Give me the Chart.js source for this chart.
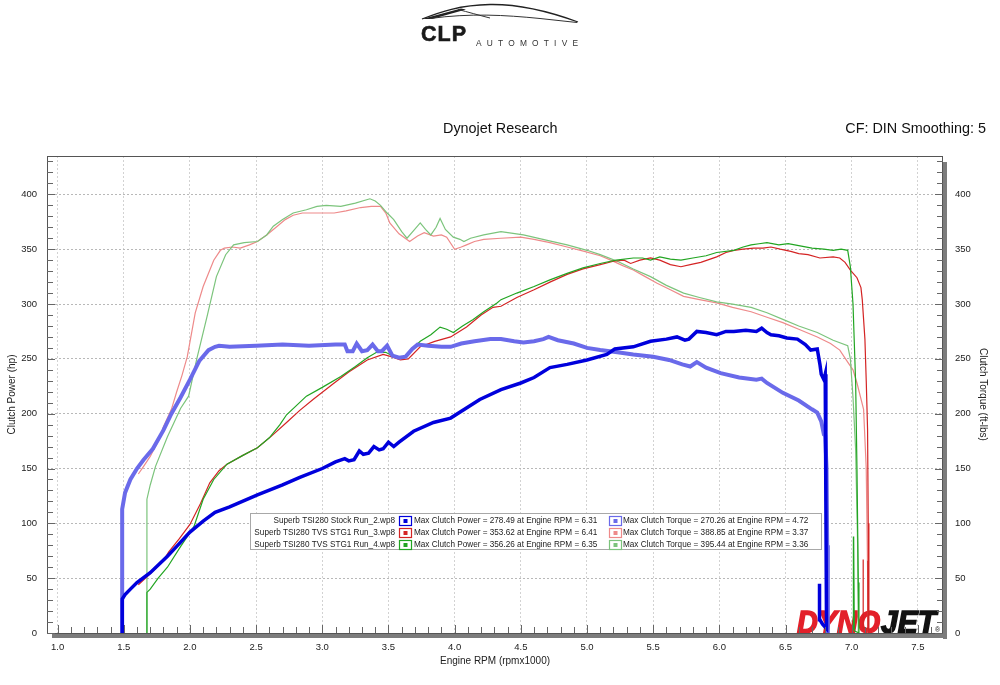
<!DOCTYPE html>
<html>
<head>
<meta charset="utf-8">
<title>Dynojet Research</title>
<script src="https://cdn.jsdelivr.net/npm/chart.js@4.4.1/dist/chart.umd.min.js"></script>
<style>
  html, body { margin: 0; padding: 0; background: #fff; }
  body { width: 1000px; height: 685px; position: relative; overflow: hidden; font-family: "Liberation Sans", Arial, sans-serif; }
  #dyno { position: absolute; left: 0; top: 0; }
  .txt { position: absolute; white-space: nowrap; line-height: 1; color: #111; }
  #swoosh { position: absolute; left: 400px; top: 0; }
</style>
</head>
<body>
<canvas id="dyno" width="1000" height="685"></canvas>

<svg id="swoosh" width="200" height="30" viewBox="400 0 200 30">
  <path d="M422,19 C440,12 460,5 490,4.5 C520,4 548,11 578,22" fill="none" stroke="#222" stroke-width="1.3"/>
  <path d="M422,19 L461,8.5 L466,9.5 L432,19 Z" fill="#222"/>
  <path d="M430,18.5 C470,13 505,15 540,18.5 L577,22.5" fill="none" stroke="#333" stroke-width="1"/>
  <path d="M458,9.5 C468,12 478,15 490,18" fill="none" stroke="#333" stroke-width="1"/>
</svg>
<div class="txt" style="left:421px; top:24px; font-size:21.5px; font-weight:900; letter-spacing:1px; color:#1a1a1a; -webkit-text-stroke:0.6px #1a1a1a;">CLP</div>
<div class="txt" style="left:476px; top:39px; font-size:8.4px; letter-spacing:5.2px; color:#333;">AUTOMOTIVE</div>

<div class="txt" style="left:443px; top:121px; font-size:14.4px;">Dynojet Research</div>
<div class="txt" style="right:14px; top:121px; font-size:14.4px;">CF: DIN Smoothing: 5</div>

<script>
// ---- data (rpm in thousands) ----
const stockPowerRpm = [1.487, 1.487, 1.49, 1.51, 1.55, 1.60, 1.70, 1.83, 1.90, 2.00, 2.10, 2.19, 2.30, 2.51, 2.70, 2.83, 3.00, 3.10, 3.17, 3.20, 3.24, 3.28, 3.31, 3.35, 3.39, 3.43, 3.46, 3.50, 3.54, 3.58, 3.69, 3.84, 3.97, 4.19, 4.35, 4.50, 4.60, 4.72, 4.85, 5.00, 5.15, 5.21, 5.35, 5.48, 5.60, 5.68, 5.74, 5.77, 5.83, 5.90, 5.98, 6.05, 6.11, 6.20, 6.28, 6.32, 6.36, 6.39, 6.45, 6.51, 6.59, 6.65, 6.69, 6.74, 6.76, 6.77, 6.79, 6.80, 6.805, 6.81, 6.78, 6.76, 6.757, 6.757];
const stockPower    = [0, 25, 31, 35, 40, 46, 55, 70, 79, 92, 102, 110, 115, 126, 135, 142, 150, 156, 159, 157, 158, 166, 163, 164, 170, 167, 168, 174, 170, 174, 184, 192, 196, 213, 222, 228, 233, 242, 245, 249, 254, 259, 261, 266, 268, 270, 267, 268, 275, 274, 272, 275, 275, 276, 275, 278, 274, 272, 271, 269, 268, 263, 258, 259, 245, 236, 231, 236, 120, 4, 8, 12, 45, 20];

const stockTorqueRpm = [1.488, 1.488, 1.51, 1.55, 1.60, 1.65, 1.72, 1.80, 1.86, 1.93, 2.00, 2.07, 2.14, 2.19, 2.22, 2.30, 2.50, 2.70, 2.90, 3.10, 3.17, 3.19, 3.23, 3.26, 3.30, 3.34, 3.38, 3.42, 3.45, 3.49, 3.53, 3.58, 3.63, 3.68, 3.72, 3.80, 3.90, 3.97, 4.05, 4.15, 4.27, 4.35, 4.45, 4.52, 4.60, 4.67, 4.71, 4.78, 4.90, 5.00, 5.10, 5.23, 5.35, 5.50, 5.62, 5.72, 5.78, 5.83, 5.90, 6.01, 6.15, 6.28, 6.32, 6.36, 6.48, 6.60, 6.70, 6.74, 6.77, 6.79, 6.80, 6.81, 6.815, 6.82];
const stockTorque    = [0, 113, 128, 140, 150, 158, 168, 185, 200, 215, 231, 248, 258, 261, 262, 261, 262, 263, 262, 263, 263, 257, 257, 264, 257, 258, 263, 257, 257, 262, 253, 251, 252, 259, 263, 262, 261, 261, 264, 266, 268, 268, 266, 265, 266, 268, 270, 267, 264, 260, 258, 256, 254, 252, 249, 245, 243, 247, 242, 237, 233, 231, 232, 228, 219, 212, 204, 201, 193, 181, 180, 150, 80, 0];

const run3PowerRpm = [1.61, 1.70, 1.80, 1.84, 1.92, 2.00, 2.08, 2.15, 2.22, 2.28, 2.40, 2.51, 2.62, 2.73, 2.83, 2.93, 3.09, 3.20, 3.34, 3.46, 3.52, 3.59, 3.65, 3.74, 3.85, 3.97, 4.09, 4.20, 4.29, 4.35, 4.47, 4.60, 4.72, 4.85, 4.97, 5.10, 5.20, 5.28, 5.33, 5.40, 5.48, 5.55, 5.63, 5.71, 5.78, 5.86, 5.98, 6.05, 6.11, 6.18, 6.26, 6.33, 6.39, 6.46, 6.54, 6.60, 6.67, 6.76, 6.86, 6.91, 6.95, 6.99, 7.04, 7.07, 7.08, 7.10, 7.11, 7.12, 7.125, 7.13, 7.123, 7.123, 7.121, 7.09, 7.088, 7.086];
const run3Power    = [44, 54, 66, 74, 86, 99, 118, 137, 148, 154, 162, 169, 180, 192, 203, 213, 228, 238, 249, 254, 252, 249, 250, 261, 266, 270, 279, 290, 297, 298, 306, 313, 320, 327, 332, 336, 339, 340, 337, 340, 342, 340, 336, 334, 336, 338, 343, 347, 349, 350, 351, 351, 352, 350, 348, 346, 345, 342, 343, 342, 338, 331, 324, 315, 304, 268, 230, 186, 100, 0, 2, 66, 4, 5, 67, 3];

const run3TorqueRpm = [1.61, 1.65, 1.70, 1.76, 1.80, 1.86, 1.90, 1.94, 1.98, 2.04, 2.10, 2.18, 2.23, 2.26, 2.32, 2.38, 2.45, 2.51, 2.58, 2.66, 2.72, 2.78, 2.85, 2.96, 3.09, 3.18, 3.29, 3.37, 3.44, 3.48, 3.51, 3.58, 3.66, 3.72, 3.77, 3.84, 3.90, 3.94, 4.00, 4.05, 4.09, 4.15, 4.22, 4.35, 4.50, 4.60, 4.72, 4.85, 4.98, 5.10, 5.18, 5.27, 5.35, 5.44, 5.53, 5.63, 5.73, 5.85, 5.98, 6.10, 6.24, 6.36, 6.48, 6.60, 6.74, 6.84, 6.91, 6.97, 7.01, 7.04, 7.09, 7.11, 7.12, 7.125];
const run3Torque    = [145, 152, 161, 175, 188, 204, 220, 235, 252, 292, 316, 340, 349, 351, 352, 351, 354, 357, 363, 371, 377, 381, 383, 383, 383, 385, 388, 389, 389, 383, 374, 364, 357, 362, 365, 362, 363, 361, 350, 352, 354, 357, 359, 360, 361, 359, 356, 352, 348, 344, 340, 335, 331, 325, 319, 313, 307, 304, 301, 297, 293, 288, 283, 277, 270, 264, 258, 247, 240, 228, 204, 150, 60, 0];

const run4PowerRpm = [1.675, 1.675, 1.70, 1.76, 1.83, 1.93, 2.03, 2.10, 2.18, 2.28, 2.40, 2.51, 2.60, 2.68, 2.73, 2.88, 3.00, 3.14, 3.25, 3.34, 3.41, 3.48, 3.54, 3.62, 3.68, 3.74, 3.82, 3.89, 3.94, 3.99, 4.06, 4.14, 4.22, 4.32, 4.35, 4.47, 4.60, 4.72, 4.85, 4.97, 5.10, 5.22, 5.35, 5.42, 5.48, 5.55, 5.63, 5.71, 5.80, 5.90, 5.98, 6.11, 6.18, 6.24, 6.30, 6.36, 6.45, 6.52, 6.61, 6.70, 6.79, 6.86, 6.92, 6.97, 6.99, 7.01, 7.03, 7.04, 7.05, 7.055, 7.02, 7.015, 7.013];
const run4Power    = [0, 37, 40, 50, 60, 79, 97, 122, 140, 154, 162, 169, 178, 190, 199, 216, 224, 234, 243, 251, 256, 256, 252, 252, 259, 266, 272, 279, 277, 274, 280, 286, 293, 301, 304, 310, 316, 322, 328, 333, 337, 340, 342, 342, 340, 343, 341, 340, 342, 344, 347, 349, 352, 354, 355, 356, 354, 355, 353, 351, 350, 349, 350, 349, 334, 300, 228, 150, 46, 0, 2, 88, 3];

const run4TorqueRpm = [1.675, 1.675, 1.70, 1.74, 1.83, 1.88, 1.93, 1.99, 2.05, 2.13, 2.20, 2.27, 2.33, 2.41, 2.51, 2.58, 2.63, 2.70, 2.78, 2.88, 2.96, 3.03, 3.14, 3.25, 3.36, 3.40, 3.44, 3.49, 3.54, 3.60, 3.64, 3.69, 3.74, 3.78, 3.82, 3.86, 3.89, 3.93, 3.99, 4.04, 4.07, 4.12, 4.22, 4.35, 4.52, 4.70, 4.85, 5.00, 5.10, 5.23, 5.35, 5.48, 5.60, 5.73, 5.85, 5.98, 6.10, 6.24, 6.36, 6.48, 6.60, 6.74, 6.86, 6.97, 6.99, 7.01, 7.03, 7.045, 7.05];
const run4Torque    = [0, 122, 135, 152, 179, 192, 205, 216, 249, 289, 325, 345, 354, 356, 357, 363, 371, 377, 383, 386, 389, 390, 389, 392, 396, 394, 390, 383, 377, 366, 360, 367, 374, 368, 363, 370, 378, 368, 361, 359, 357, 360, 363, 366, 363, 358, 354, 349, 345, 339, 332, 325, 317, 310, 306, 302, 300, 297, 292, 286, 280, 274, 267, 262, 250, 215, 167, 80, 0];

const runNames     = ['Superb TSI280 Stock Run_2.wp8', 'Superb TSI280 TVS STG1 Run_3.wp8', 'Superb TSI280 TVS STG1 Run_4.wp8'];
const maxPower     = [278.49, 353.62, 356.26];
const maxPowerRpm  = [6.31, 6.41, 6.35];
const maxTorque    = [270.26, 388.85, 395.44];
const maxTorqueRpm = [4.72, 3.37, 3.36];

const xTickValues = [1.0, 1.5, 2.0, 2.5, 3.0, 3.5, 4.0, 4.5, 5.0, 5.5, 6.0, 6.5, 7.0, 7.5];
const yTickValues = [0, 50, 100, 150, 200, 250, 300, 350, 400];

const powerColors  = ['#0000dc', '#d42424', '#22a522'];
const torqueColors = ['#6a6aea', '#ee8a8a', '#7cc47c'];

const FONT = 'Liberation Sans';

function pts(rpm, vals) {
    return rpm.map(function (x, i) { return { x: x, y: vals[i] }; });
}

function line(label, rpm, vals, color, width) {
    return {
        label: label,
        data: pts(rpm, vals),
        borderColor: color,
        borderWidth: width,
        pointRadius: 0,
        fill: false,
        tension: 0
    };
}

// frame, inner tick marks, Dynojet logo and the run legend
const sheetPlugin = {
    id: 'sheet',
    beforeDatasetsDraw: function (chart) {
        const ctx = chart.ctx;
        const a = chart.chartArea;
        ctx.save();
        ctx.font = 'italic bold 32px "' + FONT + '"';
        ctx.textBaseline = 'alphabetic';
        ctx.textAlign = 'left';
        ctx.lineWidth = 1.6;
        ctx.lineJoin = 'miter';
        ctx.fillStyle = ctx.strokeStyle = '#e3202a';
        ctx.fillText('DYNO', 797, a.bottom, 83);
        ctx.strokeText('DYNO', 797, a.bottom, 83);
        ctx.fillStyle = ctx.strokeStyle = '#111';
        ctx.fillText('JET', 881, a.bottom, 55);
        ctx.strokeText('JET', 881, a.bottom, 55);
        ctx.font = '7px "' + FONT + '"';
        ctx.fillText('\u00AE', 935, a.bottom - 1);
        ctx.restore();
    },
    afterDatasetsDraw: function (chart) {
        const ctx = chart.ctx;
        const a = chart.chartArea;
        const xs = chart.scales.x;
        const ys = chart.scales.y;
        ctx.save();

        // shadow bands
        ctx.fillStyle = '#7c7c7c';
        ctx.fillRect(a.right, a.top + 6, 4, a.bottom - a.top);
        ctx.fillRect(a.left + 5, a.bottom, a.right - a.left - 1, 5);

        // frame
        ctx.strokeStyle = '#555';
        ctx.lineWidth = 1;
        ctx.strokeRect(a.left + 0.5, a.top + 0.5, a.right - a.left - 1, a.bottom - a.top);

        // inner ticks
        ctx.strokeStyle = '#666';
        ctx.beginPath();
        for (let v = 0; v <= 430; v += 10) {
            const y = Math.round(ys.getPixelForValue(v)) + 0.5;
            const len = v % 50 === 0 ? 8 : 6;
            ctx.moveTo(a.left, y); ctx.lineTo(a.left + len, y);
            ctx.moveTo(a.right, y); ctx.lineTo(a.right - len, y);
        }
        for (let k = 10; k <= 76; k++) {
            const x = Math.round(xs.getPixelForValue(k / 10)) + 0.5;
            const len = k % 5 === 0 ? 8 : 6;
            ctx.moveTo(x, a.bottom); ctx.lineTo(x, a.bottom - len);
        }
        ctx.stroke();

        // legend box
        const lx = 250, ly = 513, lw = 571, lh = 36;
        ctx.fillStyle = '#fff';
        ctx.fillRect(lx, ly, lw, lh);
        ctx.strokeStyle = '#a8a8a8';
        ctx.strokeRect(lx + 0.5, ly + 0.5, lw, lh);
        ctx.font = '8.2px "' + FONT + '"';
        ctx.textBaseline = 'middle';
        for (let i = 0; i < runNames.length; i++) {
            const cy = 520.5 + i * 12.3;
            ctx.fillStyle = '#222';
            ctx.textAlign = 'right';
            ctx.fillText(runNames[i], 395, cy);
            ctx.textAlign = 'left';
            ctx.fillText('Max Clutch Power = ' + maxPower[i].toFixed(2) + ' at Engine RPM = ' + maxPowerRpm[i].toFixed(2), 414, cy);
            ctx.fillText('Max Clutch Torque = ' + maxTorque[i].toFixed(2) + ' at Engine RPM = ' + maxTorqueRpm[i].toFixed(2), 623, cy);
            // icons
            [[399, powerColors[i]], [609, torqueColors[i]]].forEach(function (ic) {
                ctx.strokeStyle = ic[1];
                ctx.lineWidth = 1.2;
                ctx.strokeRect(ic[0] + 0.5, Math.round(cy - 5) + 0.5, 12, 9);
                ctx.fillStyle = ic[1];
                ctx.fillRect(ic[0] + 4.5, Math.round(cy - 2), 4, 4);
            });
        }
        ctx.restore();
    }
};

const tickFont = { family: FONT, size: 9.5 };
const titleFont = { family: FONT, size: 10 };

const ctx = document.getElementById('dyno').getContext('2d');
const chart = new Chart(ctx, {
    type: 'line',
    data: {
        datasets: [
            line('Stock Power', stockPowerRpm, stockPower, powerColors[0], 3.5),
            line('Stock Torque', stockTorqueRpm, stockTorque, torqueColors[0], 4),
            line('Run_4 Power', run4PowerRpm, run4Power, powerColors[2], 1.2),
            line('Run_3 Power', run3PowerRpm, run3Power, powerColors[1], 1.2),
            line('Run_4 Torque', run4TorqueRpm, run4Torque, torqueColors[2], 1.2),
            line('Run_3 Torque', run3TorqueRpm, run3Torque, torqueColors[1], 1.2)
        ]
    },
    options: {
        responsive: false,
        animation: false,
        layout: { padding: { top: 156, left: 0, right: 0, bottom: 0 } },
        plugins: {
            legend: { display: false },
            tooltip: { enabled: false },
            title: { display: false }
        },
        scales: {
            x: {
                type: 'linear',
                min: 0.92,
                max: 7.69,
                afterBuildTicks: function (s) { s.ticks = xTickValues.map(function (v) { return { value: v }; }); },
                afterFit: function (s) { s.height = 52; },
                ticks: {
                    padding: 9, font: tickFont, color: '#222', maxRotation: 0, autoSkip: false,
                    callback: function (v) { return Number(v).toFixed(1); }
                },
                grid: { color: '#d2d2d2', drawTicks: false },
                border: { display: false, dash: [2, 2] },
                title: { display: true, text: 'Engine RPM (rpmx1000)', font: titleFont, color: '#222', padding: { top: 0, bottom: 18 } }
            },
            y: {
                position: 'left',
                min: 0,
                max: 435,
                afterBuildTicks: function (s) { s.ticks = yTickValues.map(function (v) { return { value: v }; }); },
                afterFit: function (s) { s.width = 47; },
                ticks: { padding: 10, font: tickFont, color: '#222' },
                grid: { color: '#b8b8b8', drawTicks: false },
                border: { display: false, dash: [2, 2] },
                title: { display: true, text: 'Clutch Power (hp)', font: titleFont, color: '#222', padding: { top: 6, bottom: 0 } }
            },
            y2: {
                position: 'right',
                min: 0,
                max: 435,
                afterBuildTicks: function (s) { s.ticks = yTickValues.map(function (v) { return { value: v }; }); },
                afterFit: function (s) { s.width = 57; },
                ticks: { padding: 12, font: tickFont, color: '#222' },
                grid: { drawOnChartArea: false, drawTicks: false },
                border: { display: false },
                title: { display: true, text: 'Clutch Torque (ft-lbs)', font: titleFont, color: '#222', padding: { top: 11, bottom: 0 } }
            }
        }
    },
    plugins: [sheetPlugin]
});
</script>
</body>
</html>
